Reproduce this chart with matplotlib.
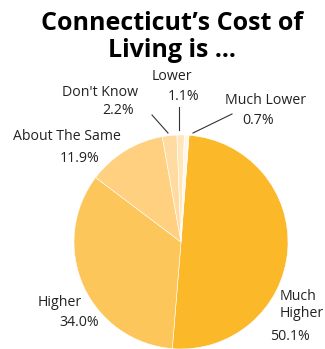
import numpy as np
import matplotlib.pyplot as plt

plt.rcParams['font.family'] = ['Open Sans', 'DejaVu Sans']

# survey shares, clockwise from the top
categories = ['Much Higher', 'Higher', 'About The Same', "Don't Know", 'Lower', 'Much Lower']
shares = [50.1, 34.0, 11.9, 2.2, 1.1, 0.7]
label_text = ['Much\nHigher', 'Higher', 'About The Same', "Don't Know", 'Lower', 'Much Lower']
colors = ['#fbb829', '#fdc65a', '#fed07f', '#fedba0', '#ffe6bb', '#fff8ea']

W, H = 325, 349
CX, CY, R = 181, 242, 107   # pie centre and radius in pixels


def px(x, y):
    """pixel position -> data coords (pie radius = 1)"""
    return (x - CX) / R, (CY - y) / R


fig = plt.figure(figsize=(W / 100, H / 100), dpi=100)
ax = fig.add_axes([0, 0, 1, 1])

wedges, _ = ax.pie(shares, colors=colors, startangle=85.7, counterclock=False,
                   radius=1.0, wedgeprops=dict(edgecolor='white', linewidth=0.4))

# pie() forces an equal aspect; the limits below already keep it round
ax.set_aspect('auto')
ax.set_xlim(-CX / R, (W - CX) / R)
ax.set_ylim(-(H - CY) / R, CY / R)
ax.axis('off')

# label, percent placement (pixels)
layout = {
    'Much Higher': ((280, 305, 'left'), (290, 336, 'center')),
    'Higher': ((60, 303, 'center'), (79, 323, 'center')),
    'About The Same': ((67, 137, 'center'), (80, 158, 'center')),
    "Don't Know": ((100, 93, 'center'), (118, 111, 'center')),
    'Lower': ((172, 77, 'center'), (184, 96, 'center')),
    'Much Lower': ((266, 100, 'center'), (258, 121, 'center')),
}
for cat, lab, val in zip(categories, label_text, shares):
    (lx, ly, lha), (vx, vy, vha) = layout[cat]
    ax.text(*px(lx, ly), lab, ha=lha, va='center', fontsize=10.2,
            color='#222222', linespacing=1.2)
    ax.text(*px(vx, vy), f'{val:.1f}%', ha=vha, va='center', fontsize=10.2,
            color='#222222')

# leader lines for the thin slices
leaders = [((152, 115), (168, 133)),
           ((179, 107), (179, 130)),
           ((232, 114), (193, 133))]
for (x0, y0), (x1, y1) in leaders:
    p0, p1 = px(x0, y0), px(x1, y1)
    ax.plot([p0[0], p1[0]], [p0[1], p1[1]], color='#333333', lw=0.8)

fig.text(172 / W, 1 - 37 / H, 'Connecticut\u2019s Cost of\nLiving is ...',
         ha='center', va='center', fontsize=18, fontweight='bold',
         linespacing=1.12)

fig.savefig('out.png', dpi=100)
